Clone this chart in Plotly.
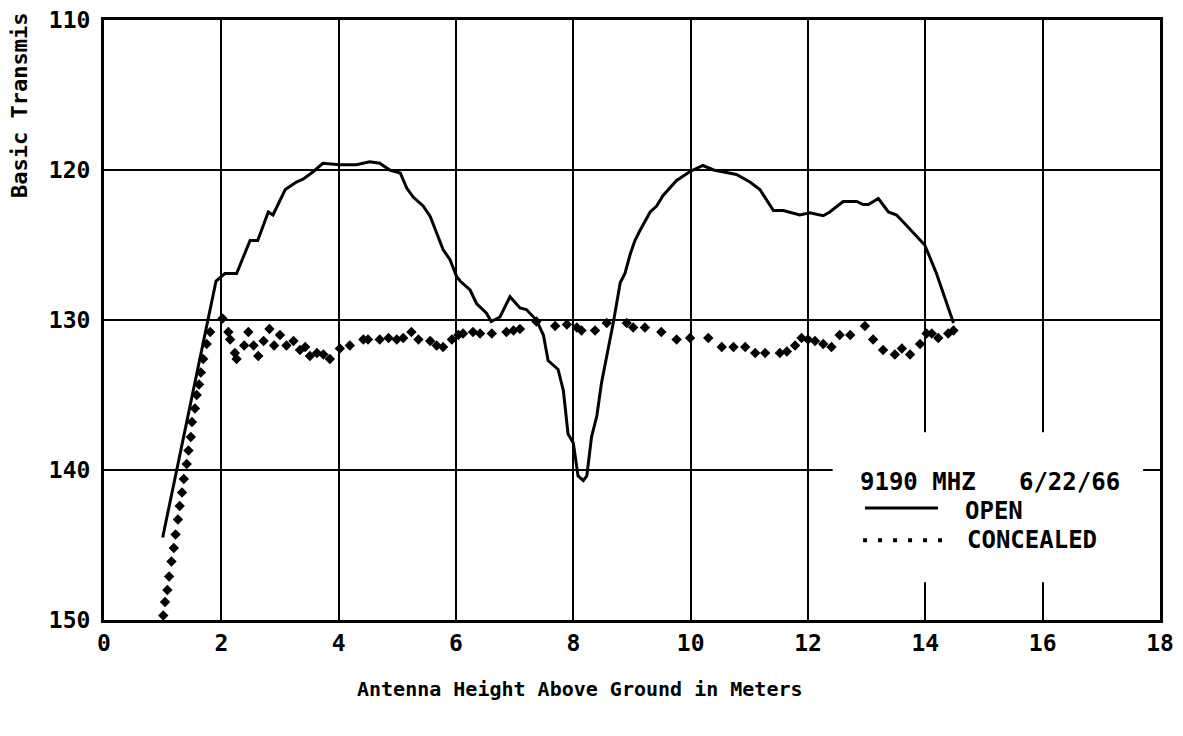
import plotly.graph_objects as go

# ---- data ----
open_x = [1.0, 1.91, 2.06, 2.26, 2.49, 2.62, 2.8, 2.88, 3.09, 3.28, 3.4, 3.57, 3.73, 4.02, 4.3, 4.53,
          4.7, 4.87, 5.05, 5.16, 5.27, 5.44, 5.56, 5.67, 5.78, 5.9, 6.01, 6.07, 6.24, 6.35, 6.52, 6.6,
          6.75, 6.92, 7.09, 7.2, 7.37, 7.49, 7.57, 7.74, 7.83, 7.91, 8.0, 8.08, 8.17, 8.23, 8.31, 8.4,
          8.48, 8.57, 8.68, 8.8, 8.88, 8.97, 9.05, 9.14, 9.31, 9.42, 9.53, 9.76, 9.99, 10.21, 10.39,
          10.78, 11.01, 11.18, 11.41, 11.58, 11.86, 12.03, 12.26, 12.37, 12.6, 12.83, 12.94, 13.03,
          13.2, 13.37, 13.51, 13.68, 13.82, 13.99, 14.19, 14.48]
open_y = [144.5, 127.4, 126.9, 126.9, 124.7, 124.7, 122.8, 123.0, 121.3, 120.8, 120.6, 120.1, 119.55,
          119.65, 119.65, 119.45, 119.55, 120.0, 120.2, 121.2, 121.8, 122.4, 123.1, 124.2, 125.3, 126.0,
          127.1, 127.4, 128.0, 128.9, 129.55, 130.1, 129.8, 128.45, 129.2, 129.3, 130.0, 131.0, 132.7,
          133.3, 134.7, 137.6, 138.2, 140.4, 140.7, 140.4, 137.8, 136.4, 134.2, 132.4, 130.2, 127.5,
          126.9, 125.6, 124.7, 124.0, 122.8, 122.4, 121.7, 120.7, 120.1, 119.7, 120.0, 120.3, 120.8,
          121.3, 122.7, 122.7, 123.0, 122.85, 123.05, 122.8, 122.1, 122.1, 122.3, 122.3, 121.9, 122.8,
          123.0, 123.7, 124.3, 125.0, 126.9, 130.2]

conc_x = [1.01, 1.04, 1.08, 1.11, 1.15, 1.19, 1.22, 1.26, 1.29, 1.33, 1.36, 1.41, 1.44, 1.48, 1.5,
          1.55, 1.58, 1.62, 1.65, 1.69, 1.75, 1.81, 2.02, 2.12, 2.15, 2.23, 2.26, 2.39, 2.46, 2.55,
          2.63, 2.72, 2.82, 2.9, 3.0, 3.11, 3.23, 3.34, 3.43, 3.51, 3.63, 3.74, 3.85, 4.02, 4.19,
          4.42, 4.5, 4.7, 4.85, 4.99, 5.1, 5.24, 5.36, 5.56, 5.67, 5.78, 5.93, 6.04, 6.12, 6.29,
          6.41, 6.61, 6.86, 6.98, 7.09, 7.37, 7.69, 7.89, 8.06, 8.14, 8.37, 8.57, 8.91, 9.02, 9.22,
          9.5, 9.76, 9.99, 10.3, 10.53, 10.73, 10.93, 11.1, 11.27, 11.52, 11.64, 11.78, 11.89, 12.0,
          12.12, 12.26, 12.4, 12.54, 12.72, 12.97, 13.11, 13.28, 13.48, 13.6, 13.74, 13.91, 14.02,
          14.11, 14.22, 14.39, 14.48]
conc_y = [149.7, 148.8, 148.0, 147.1, 146.1, 145.2, 144.3, 143.3, 142.4, 141.5, 140.6, 139.6, 138.7,
          137.8, 136.8, 135.9, 135.0, 134.3, 133.5, 132.6, 131.6, 130.8, 129.9, 130.8, 131.3, 132.2,
          132.6, 131.7, 130.8, 131.7, 132.4, 131.4, 130.6, 131.7, 131.0, 131.7, 131.4, 132.0, 131.8,
          132.4, 132.2, 132.3, 132.6, 131.9, 131.7, 131.3, 131.3, 131.3, 131.2, 131.3, 131.2, 130.8,
          131.3, 131.4, 131.7, 131.8, 131.3, 131.0, 130.9, 130.8, 130.9, 130.9, 130.8, 130.7, 130.6,
          130.1, 130.4, 130.3, 130.5, 130.7, 130.7, 130.2, 130.2, 130.5, 130.5, 130.8, 131.3, 131.2,
          131.2, 131.8, 131.8, 131.8, 132.2, 132.2, 132.2, 132.1, 131.7, 131.2, 131.3, 131.4, 131.6,
          131.8, 131.0, 131.0, 130.4, 131.3, 132.0, 132.3, 131.9, 132.3, 131.6, 130.9, 130.9, 131.2,
          130.9, 130.7]

x_ticks = [0, 2, 4, 6, 8, 10, 12, 14, 16, 18]
y_ticks = [110, 120, 130, 140, 150]

legend_title = "9190 MHZ   6/22/66"
legend_names = ["OPEN", "CONCEALED"]
x_title = "Antenna Height Above Ground in Meters"
y_title = "Basic Transmis"

MONO = "DejaVu Sans Mono"

fig = go.Figure()
fig.add_trace(go.Scatter(x=open_x, y=open_y, mode="lines", name=legend_names[0],
                         line=dict(color="black", width=3), showlegend=False))
fig.add_trace(go.Scatter(x=conc_x, y=conc_y, mode="markers", name=legend_names[1],
                         marker=dict(symbol="diamond", size=8, color="black"), showlegend=False))

axis_common = dict(showgrid=True, gridcolor="black", gridwidth=2, zeroline=False, automargin=False,
                   showline=True, linecolor="black", linewidth=3, mirror=True, ticks="",
                   ticklabeloverflow="allow",
                   tickfont=dict(family=MONO, size=23, color="black", weight="bold"))
fig.update_xaxes(range=[0, 18], tickvals=x_ticks, ticktext=[str(v) for v in x_ticks], **axis_common)
fig.update_yaxes(range=[150, 110], tickvals=y_ticks, ticktext=[str(v) for v in y_ticks],
                 ticklabelstandoff=6, **axis_common)

# legend box (white, covers grid)
fig.add_shape(type="rect", xref="paper", yref="paper", x0=0.690, x1=0.984, y0=0.063, y1=0.313,
              fillcolor="white", line=dict(width=0), layer="above")
fig.add_shape(type="line", xref="paper", yref="paper", x0=0.7206, x1=0.7898, y0=0.1867, y1=0.1867,
              line=dict(color="black", width=3), layer="above")
fig.add_shape(type="line", xref="paper", yref="paper", x0=0.7188, x1=0.7937, y0=0.133, y1=0.133,
              line=dict(color="black", width=4, dash="4px,11px"), layer="above")
fig.add_annotation(xref="paper", yref="paper", x=0.714, y=0.23, xanchor="left", yanchor="middle",
                   text=legend_title, showarrow=False,
                   font=dict(family=MONO, size=24, color="black", weight="bold"))
fig.add_annotation(xref="paper", yref="paper", x=0.8134, y=0.1817, xanchor="left", yanchor="middle",
                   text=legend_names[0], showarrow=False,
                   font=dict(family=MONO, size=24, color="black", weight="bold"))
fig.add_annotation(xref="paper", yref="paper", x=0.815, y=0.133, xanchor="left", yanchor="middle",
                   text=legend_names[1], showarrow=False,
                   font=dict(family=MONO, size=24, color="black", weight="bold"))

# axis titles
fig.add_annotation(xref="paper", yref="paper", x=0.451, y=-0.115, xanchor="center", yanchor="middle",
                   text=x_title, showarrow=False,
                   font=dict(family=MONO, size=20, color="black", weight="bold"))
fig.add_annotation(xref="paper", yref="paper", x=-0.08, y=0.7, xanchor="center", yanchor="bottom",
                   textangle=-90, text=y_title, showarrow=False,
                   font=dict(family=MONO, size=22, color="black", weight="bold"))

fig.update_layout(width=1167, height=720, margin=dict(l=96, r=15, t=12, b=108),
                  plot_bgcolor="white", paper_bgcolor="white",
                  font=dict(family=MONO, color="black"))

fig.write_html("out.html")
